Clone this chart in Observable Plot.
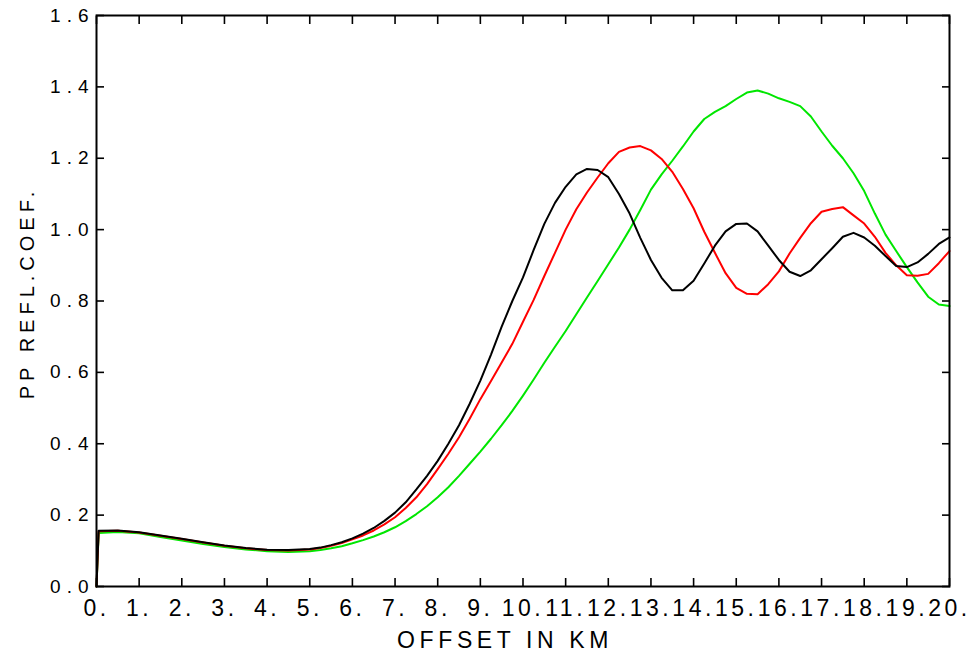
<!DOCTYPE html>
<html>
<head>
<meta charset="utf-8">
<script src="https://cdn.jsdelivr.net/npm/d3@7"></script>
<script src="https://cdn.jsdelivr.net/npm/@observablehq/plot@0.6"></script>
<style>
  html, body { margin: 0; padding: 0; background: #fff; }
  #chart svg { display: block; }
  #chart [aria-label="x-axis tick label"] text { letter-spacing: 3.5px; font-family: 'Liberation Sans Narrow', 'Arial Narrow', 'Liberation Sans', sans-serif; }
  #chart [aria-label="y-axis tick label"] text { letter-spacing: 6px; }
</style>
</head>
<body>
<div id="chart"></div>
<script>
// Offset in km (sample positions)
const offsetKm = [0, 0.05, 0.5, 1, 1.5, 2, 2.5, 3, 3.5, 4, 4.5, 5, 5.25, 5.5, 5.75, 6, 6.25, 6.5, 6.75, 7, 7.25, 7.5, 7.75, 8, 8.25, 8.5, 8.75, 9, 9.25, 9.5, 9.75, 10, 10.25, 10.5, 10.75, 11, 11.25, 11.5, 11.75, 12, 12.25, 12.5, 12.75, 13, 13.25, 13.5, 13.75, 14, 14.25, 14.5, 14.75, 15, 15.25, 15.5, 15.75, 16, 16.25, 16.5, 16.75, 17, 17.25, 17.5, 17.75, 18, 18.25, 18.5, 18.75, 19, 19.25, 19.5, 19.75, 20];

// PP reflection coefficient, black curve
const blackCoef = [0, 0.156, 0.157, 0.152, 0.143, 0.134, 0.124, 0.115, 0.108, 0.103, 0.102, 0.105, 0.109, 0.116, 0.124, 0.135, 0.148, 0.164, 0.184, 0.207, 0.236, 0.272, 0.310, 0.352, 0.400, 0.452, 0.512, 0.577, 0.650, 0.728, 0.800, 0.866, 0.943, 1.016, 1.075, 1.120, 1.155, 1.170, 1.167, 1.147, 1.100, 1.045, 0.977, 0.915, 0.865, 0.830, 0.830, 0.857, 0.905, 0.955, 0.995, 1.016, 1.017, 0.995, 0.955, 0.915, 0.882, 0.870, 0.886, 0.917, 0.948, 0.980, 0.991, 0.978, 0.955, 0.926, 0.898, 0.895, 0.908, 0.932, 0.960, 0.978];

// PP reflection coefficient, red curve
const redCoef = [0, 0.155, 0.156, 0.151, 0.142, 0.133, 0.123, 0.114, 0.107, 0.102, 0.101, 0.104, 0.108, 0.114, 0.122, 0.132, 0.143, 0.157, 0.174, 0.194, 0.220, 0.250, 0.287, 0.329, 0.372, 0.418, 0.470, 0.525, 0.576, 0.628, 0.680, 0.742, 0.803, 0.870, 0.935, 1.000, 1.057, 1.104, 1.146, 1.186, 1.218, 1.230, 1.234, 1.222, 1.198, 1.162, 1.114, 1.060, 0.994, 0.935, 0.878, 0.837, 0.820, 0.819, 0.847, 0.883, 0.933, 0.977, 1.018, 1.050, 1.058, 1.063, 1.040, 1.017, 0.980, 0.935, 0.900, 0.872, 0.871, 0.876, 0.906, 0.940];

// PP reflection coefficient, green curve
const greenCoef = [0, 0.150, 0.153, 0.149, 0.139, 0.129, 0.119, 0.111, 0.104, 0.099, 0.097, 0.099, 0.102, 0.107, 0.113, 0.121, 0.130, 0.140, 0.152, 0.166, 0.183, 0.203, 0.225, 0.250, 0.278, 0.310, 0.344, 0.378, 0.414, 0.452, 0.492, 0.535, 0.580, 0.627, 0.672, 0.716, 0.763, 0.810, 0.856, 0.903, 0.950, 1.000, 1.055, 1.112, 1.155, 1.193, 1.233, 1.275, 1.310, 1.330, 1.346, 1.366, 1.384, 1.390, 1.381, 1.368, 1.358, 1.346, 1.317, 1.275, 1.235, 1.200, 1.158, 1.108, 1.045, 0.986, 0.940, 0.895, 0.852, 0.812, 0.790, 0.786];

// Tick values
const xTickValues = [0, 1, 2, 3, 4, 5, 6, 7, 8, 9, 10, 11, 12, 13, 14, 15, 16, 17, 18, 19, 20];
const yTickValues = [0, 0.2, 0.4, 0.6, 0.8, 1.0, 1.2, 1.4, 1.6];

const xTitle = "OFFSET IN KM";
const yTitle = "PP REFL.COEF.";

const toRows = (vals) => offsetKm.map((x, i) => ({x, y: vals[i]}));

const fontFamily = "'Liberation Sans', Arial, Helvetica, sans-serif";

const chart = Plot.plot({
  width: 969,
  height: 654,
  marginLeft: 96,
  marginRight: 20,
  marginTop: 15,
  marginBottom: 68,
  x: {domain: [0, 20]},
  y: {domain: [0, 1.6]},
  style: {fontFamily, fontSize: "19px", color: "#000", background: "#fff", overflow: "visible"},
  marks: [
    Plot.line(toRows(greenCoef), {x: "x", y: "y", stroke: "#00e600", strokeWidth: 2}),
    Plot.line(toRows(redCoef), {x: "x", y: "y", stroke: "#ff0000", strokeWidth: 2}),
    Plot.line(toRows(blackCoef), {x: "x", y: "y", stroke: "#000000", strokeWidth: 2}),
    // inward ticks on all four sides
    Plot.axisX(xTickValues, {anchor: "bottom", tickSize: 8, dy: -8, fill: "none", label: null, strokeWidth: 1.6}),
    Plot.axisX(xTickValues, {anchor: "top", tickSize: 8, dy: 8, fill: "none", label: null, strokeWidth: 1.6}),
    Plot.axisY(yTickValues, {anchor: "left", tickSize: 8, dx: 8, fill: "none", label: null, strokeWidth: 1.6}),
    Plot.axisY(yTickValues, {anchor: "right", tickSize: 8, dx: -8, fill: "none", label: null, strokeWidth: 1.6}),
    // tick labels
    Plot.axisX(xTickValues, {anchor: "bottom", tickSize: 0, tickPadding: 13, tickFormat: d => d + ".", label: null, fontSize: 23}),
    Plot.axisY(yTickValues, {anchor: "left", tickSize: 0, tickPadding: 2, tickFormat: d3.format(".1f"), label: null, fontSize: 19}),
    Plot.frame({stroke: "#000", strokeWidth: 2}),
    // axis titles
    Plot.text([xTitle], {frameAnchor: "bottom", textAnchor: "middle", dx: -18, dy: 54, lineAnchor: "middle", fontSize: 23, text: d => d}),
    Plot.text([yTitle], {frameAnchor: "left", textAnchor: "middle", dx: -69, dy: -8, rotate: -90, lineAnchor: "middle", fontSize: 20, text: d => d})
  ]
});

d3.select(chart).selectAll("text")
  .filter(function() { return this.textContent === xTitle; })
  .attr("letter-spacing", "4.6px")
  .style("font-family", "'Liberation Sans Narrow', 'Arial Narrow', 'Liberation Sans', sans-serif");
d3.select(chart).selectAll("text")
  .filter(function() { return this.textContent === yTitle; })
  .attr("letter-spacing", "5px");

document.getElementById("chart").appendChild(chart);
</script>
</body>
</html>
